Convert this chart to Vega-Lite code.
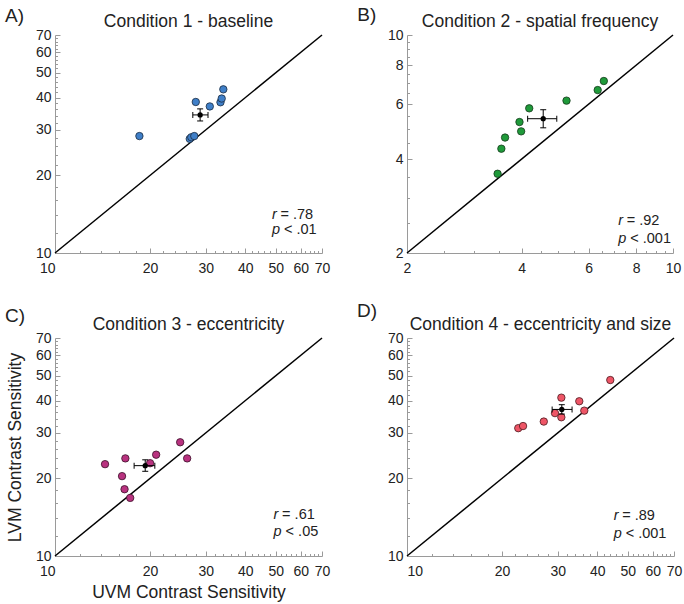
{
  "$schema": "https://vega.github.io/schema/vega-lite/v6.json",
  "background": "white",
  "padding": {"left": 5, "top": 5, "right": 5, "bottom": 5},
  "columns": 2,
  "spacing": {"row": 85, "column": 85},
  "bounds": "flush",
  "config": {
    "font": "Liberation Sans",
    "view": {"stroke": null},
    "axis": {
      "labelFont": "Liberation Sans", "labelFontSize": 14, "labelColor": "#222222",
      "domainColor": "#9a9a9a", "tickColor": "#9a9a9a", "domainWidth": 1, "tickWidth": 1,
      "titleFont": "Liberation Sans", "titleFontSize": 17.5, "titleFontWeight": "normal", "titleColor": "#222222",
      "grid": false, "labelOverlap": false, "labelFlush": false, "labelPadding": 9
    },
    "axisX": {"labelPadding": 13},
    "title": {"font": "Liberation Sans", "fontSize": 17.5, "fontWeight": "normal", "color": "#222222", "anchor": "middle"},
    "text": {"font": "Liberation Sans", "color": "#222222"}
  },
  "datasets": {
    "a": [
      {"uvm": 18.5, "lvm": 28.4}, {"uvm": 26.7, "lvm": 27.7}, {"uvm": 27.0, "lvm": 28.1},
      {"uvm": 27.6, "lvm": 28.4}, {"uvm": 27.9, "lvm": 38.5}, {"uvm": 30.9, "lvm": 37.0},
      {"uvm": 33.4, "lvm": 38.4}, {"uvm": 33.7, "lvm": 39.7}, {"uvm": 34.1, "lvm": 43.1}
    ],
    "am": [{"x": 28.8, "y": 34.3, "xlo": 27.3, "xhi": 30.5, "ylo": 32.5, "yhi": 36.2}],
    "b": [
      {"uvm": 3.46, "lvm": 3.59}, {"uvm": 3.54, "lvm": 4.32}, {"uvm": 3.62, "lvm": 4.69},
      {"uvm": 3.95, "lvm": 5.26}, {"uvm": 3.99, "lvm": 4.91}, {"uvm": 4.19, "lvm": 5.82},
      {"uvm": 5.25, "lvm": 6.16}, {"uvm": 6.34, "lvm": 6.66}, {"uvm": 6.58, "lvm": 7.12}
    ],
    "bm": [{"x": 4.56, "y": 5.39, "xlo": 4.15, "xhi": 4.95, "ylo": 5.04, "yhi": 5.76}],
    "c": [
      {"uvm": 14.4, "lvm": 22.7}, {"uvm": 16.7, "lvm": 23.9}, {"uvm": 16.3, "lvm": 20.4},
      {"uvm": 16.6, "lvm": 18.15}, {"uvm": 17.3, "lvm": 16.8}, {"uvm": 20.0, "lvm": 22.9},
      {"uvm": 20.9, "lvm": 24.7}, {"uvm": 24.9, "lvm": 27.6}, {"uvm": 26.2, "lvm": 23.9}
    ],
    "cm": [{"x": 19.3, "y": 22.4, "xlo": 17.8, "xhi": 20.7, "ylo": 21.3, "yhi": 23.6}],
    "d": [
      {"uvm": 22.5, "lvm": 31.3}, {"uvm": 23.3, "lvm": 31.9}, {"uvm": 27.1, "lvm": 33.2},
      {"uvm": 29.4, "lvm": 35.8}, {"uvm": 30.8, "lvm": 41.1}, {"uvm": 30.8, "lvm": 34.5},
      {"uvm": 35.1, "lvm": 39.8}, {"uvm": 36.4, "lvm": 36.6}, {"uvm": 44.0, "lvm": 48.1}
    ],
    "dm": [{"x": 30.9, "y": 37.0, "xlo": 28.8, "xhi": 33.3, "ylo": 35.5, "yhi": 38.6}]
  },
  "concat": [
    {
      "width": 267, "height": 218,
      "title": {"text": "Condition 1 - baseline", "offset": -24},
      "layer": [
        {"data": {"values": [{}]}, "mark": {"type": "rule", "color": "black", "strokeWidth": 1.5},
         "encoding": {
           "x": {"datum": 10, "type": "quantitative", "scale": {"type": "log", "domain": [10, 70], "nice": false},
                 "axis": {"title": null, "values": [10,12,14,16,18,20,22,24,26,28,30,32,34,36,38,40,42,44,46,48,50,52,54,56,58,60,62,64,66,68,70],
                          "labelExpr": "indexof([10,20,30,40,50,60,70], datum.value) >= 0 ? '' + datum.value : ''",
                          "labelAlign": {"condition": {"test": "datum.value == 10", "value": "right"}, "value": "center"},
                          "tickSize": {"condition": {"test": "indexof([10,20,30,40,50,60,70], datum.value) >= 0", "value": -5}, "value": -2.5}}},
           "y": {"datum": 10, "type": "quantitative", "scale": {"type": "log", "domain": [10, 70], "nice": false},
                 "axis": {"title": null, "values": [10,12,14,16,18,20,22,24,26,28,30,32,34,36,38,40,42,44,46,48,50,52,54,56,58,60,62,64,66,68,70],
                          "labelExpr": "indexof([10,20,30,40,50,60,70], datum.value) >= 0 ? '' + datum.value : ''",
                          "tickSize": {"condition": {"test": "indexof([10,20,30,40,50,60,70], datum.value) >= 0", "value": -5}, "value": -2.5}}},
           "x2": {"datum": 70}, "y2": {"datum": 70}}},
        {"data": {"name": "a"}, "mark": {"type": "circle", "size": 55, "color": "#3f7fc8", "stroke": "#1c2c40", "strokeWidth": 0.8, "opacity": 1},
         "encoding": {"x": {"field": "uvm", "type": "quantitative"}, "y": {"field": "lvm", "type": "quantitative"}}},
        {"data": {"name": "am"}, "mark": {"type": "rule", "color": "black", "strokeWidth": 1},
         "encoding": {"x": {"field": "xlo", "type": "quantitative"}, "x2": {"field": "xhi"}, "y": {"field": "y", "type": "quantitative"}}},
        {"data": {"name": "am"}, "mark": {"type": "rule", "color": "black", "strokeWidth": 1},
         "encoding": {"y": {"field": "ylo", "type": "quantitative"}, "y2": {"field": "yhi"}, "x": {"field": "x", "type": "quantitative"}}},
        {"data": {"name": "am"}, "transform": [{"fold": ["xlo", "xhi"], "as": ["k", "v"]}],
         "mark": {"type": "tick", "orient": "vertical", "size": 6, "thickness": 1, "color": "black", "opacity": 1},
         "encoding": {"x": {"field": "v", "type": "quantitative"}, "y": {"field": "y", "type": "quantitative"}}},
        {"data": {"name": "am"}, "transform": [{"fold": ["ylo", "yhi"], "as": ["k", "v"]}],
         "mark": {"type": "tick", "orient": "horizontal", "size": 6, "thickness": 1, "color": "black", "opacity": 1},
         "encoding": {"y": {"field": "v", "type": "quantitative"}, "x": {"field": "x", "type": "quantitative"}}},
        {"data": {"name": "am"}, "mark": {"type": "circle", "size": 28, "color": "black", "opacity": 1},
         "encoding": {"x": {"field": "x", "type": "quantitative"}, "y": {"field": "y", "type": "quantitative"}}},
        {"data": {"values": [{}]}, "mark": {"type": "text", "text": "r", "fontStyle": "italic", "fontSize": 14.5, "align": "left", "baseline": "alphabetic"},
         "encoding": {"x": {"datum": 48.6, "type": "quantitative"}, "y": {"datum": 13.6, "type": "quantitative"}}},
        {"data": {"values": [{}]}, "mark": {"type": "text", "text": "= .78", "fontSize": 14.5, "align": "left", "baseline": "alphabetic", "dx": 8.5},
         "encoding": {"x": {"datum": 48.6, "type": "quantitative"}, "y": {"datum": 13.6, "type": "quantitative"}}},
        {"data": {"values": [{}]}, "mark": {"type": "text", "text": "p", "fontStyle": "italic", "fontSize": 14.5, "align": "left", "baseline": "alphabetic"},
         "encoding": {"x": {"datum": 48.6, "type": "quantitative"}, "y": {"datum": 11.8, "type": "quantitative"}}},
        {"data": {"values": [{}]}, "mark": {"type": "text", "text": "< .01", "fontSize": 14.5, "align": "left", "baseline": "alphabetic", "dx": 12},
         "encoding": {"x": {"datum": 48.6, "type": "quantitative"}, "y": {"datum": 11.8, "type": "quantitative"}}},
        {"data": {"values": [{}]}, "mark": {"type": "text", "text": "A)", "fontSize": 19, "align": "left", "baseline": "alphabetic"},
         "encoding": {"x": {"datum": 6.95, "type": "quantitative"}, "y": {"datum": 78.8, "type": "quantitative"}}}
      ]
    },
    {
      "width": 266, "height": 218,
      "title": {"text": "Condition 2 - spatial frequency", "offset": -25},
      "layer": [
        {"data": {"values": [{}]}, "mark": {"type": "rule", "color": "black", "strokeWidth": 1.5},
         "encoding": {
           "x": {"datum": 2, "type": "quantitative", "scale": {"type": "log", "domain": [2, 10], "nice": false},
                 "axis": {"title": null, "values": [2,2.5,3,3.5,4,4.5,5,5.5,6,6.5,7,7.5,8,8.5,9,9.5,10],
                          "labelExpr": "indexof([2,4,6,8,10], datum.value) >= 0 ? '' + datum.value : ''",
                          "tickSize": {"condition": {"test": "indexof([2,4,6,8,10], datum.value) >= 0", "value": -5}, "value": -2.5}}},
           "y": {"datum": 2, "type": "quantitative", "scale": {"type": "log", "domain": [2, 10], "nice": false},
                 "axis": {"title": null, "values": [2,2.5,3,3.5,4,4.5,5,5.5,6,6.5,7,7.5,8,8.5,9,9.5,10],
                          "labelExpr": "indexof([2,4,6,8,10], datum.value) >= 0 ? '' + datum.value : ''",
                          "tickSize": {"condition": {"test": "indexof([2,4,6,8,10], datum.value) >= 0", "value": -5}, "value": -2.5}}},
           "x2": {"datum": 10}, "y2": {"datum": 10}}},
        {"data": {"name": "b"}, "mark": {"type": "circle", "size": 55, "color": "#1f9a3a", "stroke": "#153a1c", "strokeWidth": 0.8, "opacity": 1},
         "encoding": {"x": {"field": "uvm", "type": "quantitative"}, "y": {"field": "lvm", "type": "quantitative"}}},
        {"data": {"name": "bm"}, "mark": {"type": "rule", "color": "black", "strokeWidth": 1},
         "encoding": {"x": {"field": "xlo", "type": "quantitative"}, "x2": {"field": "xhi"}, "y": {"field": "y", "type": "quantitative"}}},
        {"data": {"name": "bm"}, "mark": {"type": "rule", "color": "black", "strokeWidth": 1},
         "encoding": {"y": {"field": "ylo", "type": "quantitative"}, "y2": {"field": "yhi"}, "x": {"field": "x", "type": "quantitative"}}},
        {"data": {"name": "bm"}, "transform": [{"fold": ["xlo", "xhi"], "as": ["k", "v"]}],
         "mark": {"type": "tick", "orient": "vertical", "size": 6, "thickness": 1, "color": "black", "opacity": 1},
         "encoding": {"x": {"field": "v", "type": "quantitative"}, "y": {"field": "y", "type": "quantitative"}}},
        {"data": {"name": "bm"}, "transform": [{"fold": ["ylo", "yhi"], "as": ["k", "v"]}],
         "mark": {"type": "tick", "orient": "horizontal", "size": 6, "thickness": 1, "color": "black", "opacity": 1},
         "encoding": {"y": {"field": "v", "type": "quantitative"}, "x": {"field": "x", "type": "quantitative"}}},
        {"data": {"name": "bm"}, "mark": {"type": "circle", "size": 28, "color": "black", "opacity": 1},
         "encoding": {"x": {"field": "x", "type": "quantitative"}, "y": {"field": "y", "type": "quantitative"}}},
        {"data": {"values": [{}]}, "mark": {"type": "text", "text": "r", "fontStyle": "italic", "fontSize": 14.5, "align": "left", "baseline": "alphabetic"},
         "encoding": {"x": {"datum": 7.18, "type": "quantitative"}, "y": {"datum": 2.46, "type": "quantitative"}}},
        {"data": {"values": [{}]}, "mark": {"type": "text", "text": "= .92", "fontSize": 14.5, "align": "left", "baseline": "alphabetic", "dx": 8.5},
         "encoding": {"x": {"datum": 7.18, "type": "quantitative"}, "y": {"datum": 2.46, "type": "quantitative"}}},
        {"data": {"values": [{}]}, "mark": {"type": "text", "text": "p", "fontStyle": "italic", "fontSize": 14.5, "align": "left", "baseline": "alphabetic"},
         "encoding": {"x": {"datum": 7.18, "type": "quantitative"}, "y": {"datum": 2.16, "type": "quantitative"}}},
        {"data": {"values": [{}]}, "mark": {"type": "text", "text": "< .001", "fontSize": 14.5, "align": "left", "baseline": "alphabetic", "dx": 12},
         "encoding": {"x": {"datum": 7.18, "type": "quantitative"}, "y": {"datum": 2.16, "type": "quantitative"}}},
        {"data": {"values": [{}]}, "mark": {"type": "text", "text": "B)", "fontSize": 19, "align": "left", "baseline": "alphabetic"},
         "encoding": {"x": {"datum": 1.48, "type": "quantitative"}, "y": {"datum": 11.12, "type": "quantitative"}}}
      ]
    },
    {
      "width": 267, "height": 218,
      "title": {"text": "Condition 3 - eccentricity", "offset": -26},
      "layer": [
        {"data": {"values": [{}]}, "mark": {"type": "rule", "color": "black", "strokeWidth": 1.5},
         "encoding": {
           "x": {"datum": 10, "type": "quantitative", "scale": {"type": "log", "domain": [10, 70], "nice": false},
                 "axis": {"title": "UVM Contrast Sensitivity", "titlePadding": 3, "values": [10,12,14,16,18,20,22,24,26,28,30,32,34,36,38,40,42,44,46,48,50,52,54,56,58,60,62,64,66,68,70],
                          "labelExpr": "indexof([10,20,30,40,50,60,70], datum.value) >= 0 ? '' + datum.value : ''",
                          "labelAlign": {"condition": {"test": "datum.value == 10", "value": "right"}, "value": "center"},
                          "tickSize": {"condition": {"test": "indexof([10,20,30,40,50,60,70], datum.value) >= 0", "value": -5}, "value": -2.5}}},
           "y": {"datum": 10, "type": "quantitative", "scale": {"type": "log", "domain": [10, 70], "nice": false},
                 "axis": {"title": "LVM Contrast Sensitivity", "titlePadding": 11, "values": [10,12,14,16,18,20,22,24,26,28,30,32,34,36,38,40,42,44,46,48,50,52,54,56,58,60,62,64,66,68,70],
                          "labelExpr": "indexof([10,20,30,40,50,60,70], datum.value) >= 0 ? '' + datum.value : ''",
                          "tickSize": {"condition": {"test": "indexof([10,20,30,40,50,60,70], datum.value) >= 0", "value": -5}, "value": -2.5}}},
           "x2": {"datum": 70}, "y2": {"datum": 70}}},
        {"data": {"name": "c"}, "mark": {"type": "circle", "size": 55, "color": "#b8327f", "stroke": "#3a1028", "strokeWidth": 0.8, "opacity": 1},
         "encoding": {"x": {"field": "uvm", "type": "quantitative"}, "y": {"field": "lvm", "type": "quantitative"}}},
        {"data": {"name": "cm"}, "mark": {"type": "rule", "color": "black", "strokeWidth": 1},
         "encoding": {"x": {"field": "xlo", "type": "quantitative"}, "x2": {"field": "xhi"}, "y": {"field": "y", "type": "quantitative"}}},
        {"data": {"name": "cm"}, "mark": {"type": "rule", "color": "black", "strokeWidth": 1},
         "encoding": {"y": {"field": "ylo", "type": "quantitative"}, "y2": {"field": "yhi"}, "x": {"field": "x", "type": "quantitative"}}},
        {"data": {"name": "cm"}, "transform": [{"fold": ["xlo", "xhi"], "as": ["k", "v"]}],
         "mark": {"type": "tick", "orient": "vertical", "size": 6, "thickness": 1, "color": "black", "opacity": 1},
         "encoding": {"x": {"field": "v", "type": "quantitative"}, "y": {"field": "y", "type": "quantitative"}}},
        {"data": {"name": "cm"}, "transform": [{"fold": ["ylo", "yhi"], "as": ["k", "v"]}],
         "mark": {"type": "tick", "orient": "horizontal", "size": 6, "thickness": 1, "color": "black", "opacity": 1},
         "encoding": {"y": {"field": "v", "type": "quantitative"}, "x": {"field": "x", "type": "quantitative"}}},
        {"data": {"name": "cm"}, "mark": {"type": "circle", "size": 28, "color": "black", "opacity": 1},
         "encoding": {"x": {"field": "x", "type": "quantitative"}, "y": {"field": "y", "type": "quantitative"}}},
        {"data": {"values": [{}]}, "mark": {"type": "text", "text": "r", "fontStyle": "italic", "fontSize": 14.5, "align": "left", "baseline": "alphabetic"},
         "encoding": {"x": {"datum": 49.2, "type": "quantitative"}, "y": {"datum": 13.9, "type": "quantitative"}}},
        {"data": {"values": [{}]}, "mark": {"type": "text", "text": "= .61", "fontSize": 14.5, "align": "left", "baseline": "alphabetic", "dx": 8.5},
         "encoding": {"x": {"datum": 49.2, "type": "quantitative"}, "y": {"datum": 13.9, "type": "quantitative"}}},
        {"data": {"values": [{}]}, "mark": {"type": "text", "text": "p", "fontStyle": "italic", "fontSize": 14.5, "align": "left", "baseline": "alphabetic"},
         "encoding": {"x": {"datum": 49.2, "type": "quantitative"}, "y": {"datum": 11.96, "type": "quantitative"}}},
        {"data": {"values": [{}]}, "mark": {"type": "text", "text": "< .05", "fontSize": 14.5, "align": "left", "baseline": "alphabetic", "dx": 12},
         "encoding": {"x": {"datum": 49.2, "type": "quantitative"}, "y": {"datum": 11.96, "type": "quantitative"}}},
        {"data": {"values": [{}]}, "mark": {"type": "text", "text": "C)", "fontSize": 19, "align": "left", "baseline": "alphabetic"},
         "encoding": {"x": {"datum": 6.95, "type": "quantitative"}, "y": {"datum": 80.5, "type": "quantitative"}}}
      ]
    },
    {
      "width": 267, "height": 218,
      "title": {"text": "Condition 4 - eccentricity and size", "offset": -31},
      "layer": [
        {"data": {"values": [{}]}, "mark": {"type": "rule", "color": "black", "strokeWidth": 1.5},
         "encoding": {
           "x": {"datum": 10, "type": "quantitative", "scale": {"type": "log", "domain": [10, 70], "nice": false},
                 "axis": {"title": null, "values": [10,12,14,16,18,20,22,24,26,28,30,32,34,36,38,40,42,44,46,48,50,52,54,56,58,60,62,64,66,68,70],
                          "labelExpr": "indexof([10,20,30,40,50,60,70], datum.value) >= 0 ? '' + datum.value : ''",
                          "labelAlign": {"condition": {"test": "datum.value == 10", "value": "left"}, "value": "center"},
                          "tickSize": {"condition": {"test": "indexof([10,20,30,40,50,60,70], datum.value) >= 0", "value": -5}, "value": -2.5}}},
           "y": {"datum": 10, "type": "quantitative", "scale": {"type": "log", "domain": [10, 70], "nice": false},
                 "axis": {"title": null, "values": [10,12,14,16,18,20,22,24,26,28,30,32,34,36,38,40,42,44,46,48,50,52,54,56,58,60,62,64,66,68,70],
                          "labelExpr": "indexof([10,20,30,40,50,60,70], datum.value) >= 0 ? '' + datum.value : ''",
                          "tickSize": {"condition": {"test": "indexof([10,20,30,40,50,60,70], datum.value) >= 0", "value": -5}, "value": -2.5}}},
           "x2": {"datum": 70}, "y2": {"datum": 70}}},
        {"data": {"name": "d"}, "mark": {"type": "circle", "size": 55, "color": "#ee5566", "stroke": "#4a1a20", "strokeWidth": 0.8, "opacity": 1},
         "encoding": {"x": {"field": "uvm", "type": "quantitative"}, "y": {"field": "lvm", "type": "quantitative"}}},
        {"data": {"name": "dm"}, "mark": {"type": "rule", "color": "black", "strokeWidth": 1},
         "encoding": {"x": {"field": "xlo", "type": "quantitative"}, "x2": {"field": "xhi"}, "y": {"field": "y", "type": "quantitative"}}},
        {"data": {"name": "dm"}, "mark": {"type": "rule", "color": "black", "strokeWidth": 1},
         "encoding": {"y": {"field": "ylo", "type": "quantitative"}, "y2": {"field": "yhi"}, "x": {"field": "x", "type": "quantitative"}}},
        {"data": {"name": "dm"}, "transform": [{"fold": ["xlo", "xhi"], "as": ["k", "v"]}],
         "mark": {"type": "tick", "orient": "vertical", "size": 6, "thickness": 1, "color": "black", "opacity": 1},
         "encoding": {"x": {"field": "v", "type": "quantitative"}, "y": {"field": "y", "type": "quantitative"}}},
        {"data": {"name": "dm"}, "transform": [{"fold": ["ylo", "yhi"], "as": ["k", "v"]}],
         "mark": {"type": "tick", "orient": "horizontal", "size": 6, "thickness": 1, "color": "black", "opacity": 1},
         "encoding": {"y": {"field": "v", "type": "quantitative"}, "x": {"field": "x", "type": "quantitative"}}},
        {"data": {"name": "dm"}, "mark": {"type": "circle", "size": 28, "color": "black", "opacity": 1},
         "encoding": {"x": {"field": "x", "type": "quantitative"}, "y": {"field": "y", "type": "quantitative"}}},
        {"data": {"values": [{}]}, "mark": {"type": "text", "text": "r", "fontStyle": "italic", "fontSize": 14.5, "align": "left", "baseline": "alphabetic"},
         "encoding": {"x": {"datum": 45.1, "type": "quantitative"}, "y": {"datum": 13.75, "type": "quantitative"}}},
        {"data": {"values": [{}]}, "mark": {"type": "text", "text": "= .89", "fontSize": 14.5, "align": "left", "baseline": "alphabetic", "dx": 8.5},
         "encoding": {"x": {"datum": 45.1, "type": "quantitative"}, "y": {"datum": 13.75, "type": "quantitative"}}},
        {"data": {"values": [{}]}, "mark": {"type": "text", "text": "p", "fontStyle": "italic", "fontSize": 14.5, "align": "left", "baseline": "alphabetic"},
         "encoding": {"x": {"datum": 45.1, "type": "quantitative"}, "y": {"datum": 11.78, "type": "quantitative"}}},
        {"data": {"values": [{}]}, "mark": {"type": "text", "text": "< .001", "fontSize": 14.5, "align": "left", "baseline": "alphabetic", "dx": 12},
         "encoding": {"x": {"datum": 45.1, "type": "quantitative"}, "y": {"datum": 11.78, "type": "quantitative"}}},
        {"data": {"values": [{}]}, "mark": {"type": "text", "text": "D)", "fontSize": 19, "align": "left", "baseline": "alphabetic"},
         "encoding": {"x": {"datum": 6.95, "type": "quantitative"}, "y": {"datum": 84.4, "type": "quantitative"}}}
      ]
    }
  ]
}
